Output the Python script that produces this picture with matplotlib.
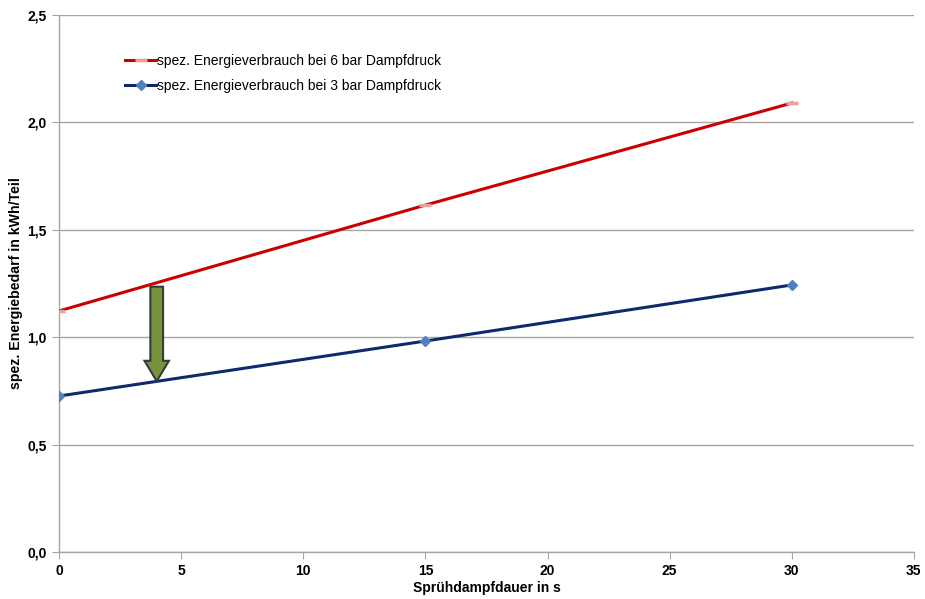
import matplotlib
matplotlib.use("Agg")
import matplotlib.pyplot as plt
from matplotlib.patches import FancyArrow
from matplotlib.ticker import FuncFormatter

# Data
x_vals = [0, 15, 30]
red_vals = [1.122, 1.615, 2.09]
blue_vals = [0.726, 0.982, 1.243]
red_label = "spez. Energieverbrauch bei 6 bar Dampfdruck"
blue_label = "spez. Energieverbrauch bei 3 bar Dampfdruck"
x_ticks = [0, 5, 10, 15, 20, 25, 30, 35]
y_ticks = [0.0, 0.5, 1.0, 1.5, 2.0, 2.5]
arrow_x = 4
arrow_top = 1.235
arrow_bottom = 0.795

plt.rcParams['font.family'] = ['Liberation Sans', 'DejaVu Sans']

fig = plt.figure(figsize=(9.25, 5.99), dpi=100)
ax = fig.add_axes([0.0638, 0.0785, 0.9242, 0.8965])

ax.set_xlim(0, 35)
ax.set_ylim(0, 2.5)

ax.yaxis.grid(True, color='#a6a6a6', linewidth=1.0)
ax.set_axisbelow(True)

ax.plot(x_vals, red_vals, color='#cc0000', linewidth=2.2, marker='_',
        markersize=8, markeredgewidth=2.5, markeredgecolor='#e8a0a0',
        label=red_label, zorder=3)
ax.plot(x_vals, blue_vals, color='#0e2a6b', linewidth=2.2, marker='D',
        markersize=5.5, markerfacecolor='#4f81bd', markeredgecolor='#4f81bd',
        label=blue_label, zorder=3)

arr = FancyArrow(arrow_x, arrow_top, 0, arrow_bottom - arrow_top,
                 width=0.52, head_width=1.0, head_length=0.095,
                 length_includes_head=True, facecolor='#77933c',
                 edgecolor='#3a3a3a', linewidth=1.5, zorder=4)
ax.add_patch(arr)

for s in ['top', 'right']:
    ax.spines[s].set_visible(False)
for s in ['left', 'bottom']:
    ax.spines[s].set_color('#a6a6a6')
    ax.spines[s].set_linewidth(1.0)

ax.set_xticks(x_ticks)
ax.set_yticks(y_ticks)
ax.yaxis.set_major_formatter(FuncFormatter(lambda v, p: f"{v:.1f}".replace('.', ',')))
ax.tick_params(axis='both', direction='out', length=5, color='#a6a6a6',
               labelsize=10, pad=4)
for lab in ax.get_xticklabels() + ax.get_yticklabels():
    lab.set_fontweight('bold')

ax.set_xlabel("Sprühdampfdauer in s", fontsize=10, fontweight='bold', labelpad=2)
ax.set_ylabel("spez. Energiebedarf in kWh/Teil", fontsize=10.2, fontweight='bold', labelpad=3)

leg = ax.legend(loc='upper left', bbox_to_anchor=(0.063, 0.95), frameon=False,
                fontsize=10, handlelength=2.2, handletextpad=0.1, labelspacing=0.75)

fig.savefig("out.png", dpi=100)
